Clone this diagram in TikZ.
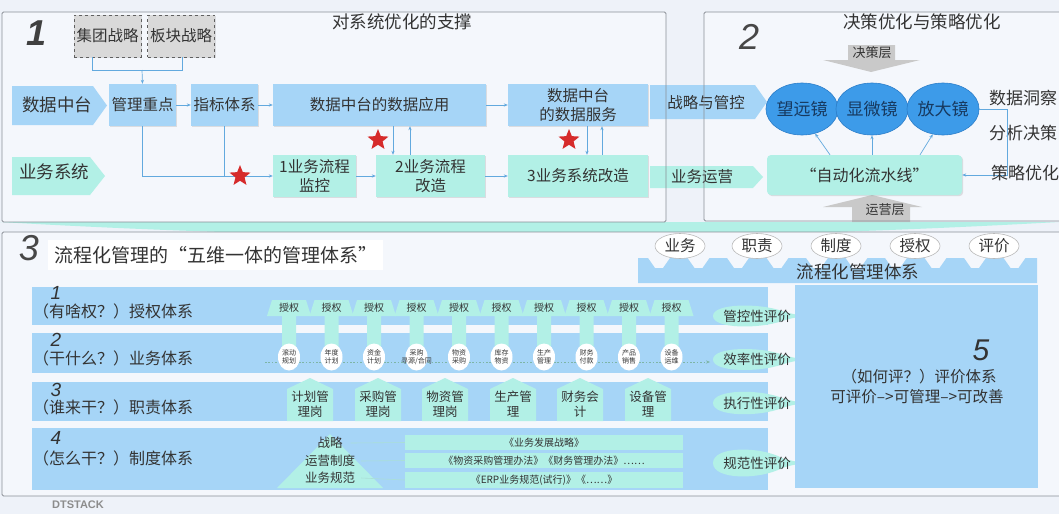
\documentclass[tikz,border=0pt]{standalone}
\usepackage{fontspec}
\setmainfont{Noto Sans CJK SC}
\newfontfamily\numfont{Liberation Sans}
\usetikzlibrary{shapes.geometric,arrows.meta,shadows,calc}
\definecolor{bg}{HTML}{EEF2F9}
\definecolor{panel}{HTML}{F4F7FC}
\definecolor{cblue}{HTML}{A6D5F7}
\definecolor{cteal}{HTML}{B2F0E6}
\definecolor{lens}{HTML}{3D9BE9}
\definecolor{lensb}{HTML}{2B7DC9}
\definecolor{navy}{HTML}{17395F}
\definecolor{txt}{HTML}{333333}
\definecolor{cline}{HTML}{62A9DE}
\definecolor{sred}{HTML}{D62B2B}
\definecolor{gbox}{HTML}{D9D9D9}
\definecolor{garrow}{HTML}{C9C9C9}
\definecolor{bord}{HTML}{8A8F96}
\definecolor{dotc}{HTML}{7DB5A6}
\newcommand\myfs[2]{\fontsize{#1}{#2}\selectfont}
\begin{document}
\begin{tikzpicture}[x=1pt,y=-1pt,
  shad/.style={drop shadow={shadow xshift=1.2pt,shadow yshift=-1.2pt,opacity=0.22}},
  boxb/.style={fill=cblue, text=txt, align=center, inner sep=0pt, font=\myfs{15.5}{19}, shad},
  boxt/.style={boxb, fill=cteal},
  gbx/.style={fill=gbox, draw=gray!75!black, dashed, text=txt, inner sep=0pt, font=\myfs{15.5}{19}, minimum width=67, minimum height=42, shad},
  conn/.style={draw=cline, line width=0.7pt, -{Stealth[length=4pt,width=3.2pt]}},
  plain/.style={draw=cline, line width=0.7pt},
  redstar/.style={star, star points=5, star point ratio=2.3, fill=sred, minimum size=22pt, inner sep=0pt},
  lbl/.style={text=txt, inner sep=0pt, align=center},
  lensn/.style={ellipse, fill=lens, draw=lensb, line width=0.6pt, minimum width=70, minimum height=52, inner sep=0pt, text=navy, font=\myfs{17}{20}},
  topov/.style={ellipse, fill=white, draw=gray!55, line width=0.6pt, minimum width=50, minimum height=25, inner sep=0pt, text=txt, font=\myfs{15.5}{18}},
  bignum/.style={text=black!72, inner sep=0pt, font=\numfont\itshape\myfs{36}{36}},
  rownum/.style={text=txt, inner sep=0pt, font=\numfont\itshape\myfs{19}{19}},
]
% background
\fill[bg] (0,0) rectangle (1059,514);
\useasboundingbox (0,0) rectangle (1059,514);
% teal lens band between panels
\fill[cteal] (0,222) .. controls (350,242) and (700,242) .. (1059,222) -- cycle;
% panel fills
\fill[panel] (2,12) rectangle (666,222);
\fill[panel] (704,12) rectangle (1065,221);
\fill[panel] (2,232) rectangle (1065,496);

%================ PANEL 1 ================
\node[text=black!75, inner sep=0pt, font=\numfont\bfseries\itshape\myfs{36}{36}] (n1) at (37,33) {1};
\node[lbl, font=\myfs{17.5}{20}] (t1) at (402,22) {对系统优化的支撑};
\node[gbx] (jt) at (107.5,36) {集团战略};
\node[gbx] (bk) at (181,36) {板块战略};
\coordinate (jn) at (142,70);
\draw[plain] ([xshift=-15.5pt]jt.south) -- ++(0,13) -| ([xshift=1pt]bk.south);

% left arrows
\fill[cblue] (12,86) -- (93,86) -- (107,105.5) -- (93,125) -- (12,125) -- cycle;
\node[lbl, font=\myfs{17.5}{20}] (sj) at (57,105) {数据中台};
\fill[cteal] (12,157) -- (90,157) -- (105,176) -- (90,195) -- (12,195) -- cycle;
\node[lbl, font=\myfs{17.5}{20}] (ywx) at (54,172) {业务系统};

\node[boxb, minimum width=67, minimum height=42] (gl) at (142.5,105) {管理重点};
\node[boxb, minimum width=67, minimum height=42] (zb) at (224.5,105) {指标体系};
\node[boxb, minimum width=213, minimum height=42] (sy) at (379.5,105) {数据中台的数据应用};
\node[boxb, minimum width=140, minimum height=42] (fw) at (578,105) {数据中台\\的数据服务};
\node[boxt, minimum width=83, minimum height=42] (m1) at (314.5,176) {1业务流程\\监控};
\node[boxt, minimum width=109, minimum height=42] (m2) at (430.5,176) {2业务流程\\改造};
\node[boxt, minimum width=140, minimum height=42] (m3) at (578,176) {3业务系统改造};

\draw[conn] (jn) -- (gl.north);
\draw[conn] (gl) -- (zb);
\draw[conn] (zb) -- (sy);
\draw[conn] (sy) -- (fw);
\draw[conn] (gl.south) |- (m1.west);
\draw[plain] (zb.south) -- (zb.south |- m1.west);
\draw[conn] (m1) -- (m2);
\draw[conn] (m2) -- (m3);
\draw[conn] ([xshift=13.5pt]sy.south) -- ([xshift=-37.5pt]m2.north);
\draw[conn] ([xshift=-20.5pt]m2.north) -- ([xshift=30.5pt]sy.south);
\draw[conn] ([xshift=9pt]fw.south) -- ([xshift=9pt]m3.north);
\draw[conn] ([xshift=24pt]m3.north) -- ([xshift=24pt]fw.south);
\node[redstar] (s1) at (240,176) {};
\node[redstar] (s2) at (378,140) {};
\node[redstar] (s3) at (569,140) {};

% crossing arrows
\fill[cblue] (650,85) -- (755,85) -- (767,102) -- (755,119) -- (650,119) -- cycle;
\node[lbl, font=\myfs{15.5}{18}] (zl) at (706,103) {战略与管控};
\fill[cteal] (650,166) -- (753,166) -- (763,177) -- (753,188) -- (650,188) -- cycle;
\node[lbl, font=\myfs{15.5}{18}] (yy) at (702,177) {业务运营};

%================ PANEL 2 ================
\node[bignum] (n2) at (749,37) {2};
\node[lbl, font=\myfs{17.5}{20}] (t2) at (922,22) {决策优化与策略优化};
\fill[garrow] (848,45) -- (895,45) -- (895,60) -- (920,60) -- (871,72) -- (823,60) -- (848,60) -- cycle;
\node[lbl, font=\myfs{13}{15}] (jc) at (872,53) {决策层};
\fill[garrow] (872,195) -- (922,207) -- (910,207) -- (910,222) -- (852,222) -- (852,207) -- (823,207) -- cycle;
\node[lbl, font=\myfs{13}{15}] (yyc) at (885,210) {运营层};

\node[lensn] (wy) at (802,109) {望远镜};
\node[lensn] (xw) at (872,109) {显微镜};
\node[lensn] (fd) at (943,109) {放大镜};
\node[lbl, font=\myfs{17}{20}] (dc) at (1023,98) {数据洞察};
\node[lbl, font=\myfs{17}{20}] (fx) at (1023,133) {分析决策};
\node[boxt, rounded corners=4pt, minimum width=195, minimum height=40, font=\myfs{16}{19}] (zd) at (864.5,175) {“自动化流水线”};
\draw[conn] ([xshift=-34.5pt]zd.north) -- (wy.-62);
\draw[conn] (zd.north -| xw) -- (xw.south);
\draw[conn] ([xshift=55.5pt]zd.north) -- (fd.-112);
\draw[conn] (fd.east) -- ++(28,0) |- (zd.east);
\node[lbl, font=\myfs{17}{20}] (cl) at (1025,173) {策略优化};

%================ PANEL 3 ================
\node[bignum] (n3) at (29,248) {3};
\node[fill=white, minimum width=335, minimum height=30, inner sep=0pt, text=txt, font=\myfs{19}{21}] (tb) at (215.5,255) {流程化管理的“五维一体的管理体系”};

% row bands
\fill[cblue] (32,287) rectangle (768,325);
\fill[cblue] (32,333) rectangle (768,373);
\fill[cblue] (32,382) rectangle (768,421);
\fill[cblue] (32,428) rectangle (768,490);
\node[rownum] (rn1) at (56,293) {1};
\node[rownum] (rn2) at (56,340) {2};
\node[rownum] (rn3) at (56,390) {3};
\node[rownum] (rn4) at (56,438) {4};
\node[lbl, font=\myfs{16}{18}] (rl1) at (113,311) {（有啥权？）授权体系};
\node[lbl, font=\myfs{16}{18}] (rl2) at (113,358) {（干什么？）业务体系};
\node[lbl, font=\myfs{16}{18}] (rl3) at (113,407) {（谁来干？）职责体系};
\node[lbl, font=\myfs{16}{18}] (rl4) at (113,458) {（怎么干？）制度体系};

% authority bells
\foreach \i in {0,...,9}{
  \pgfmathsetmacro\cx{289+42.5*\i}
  \fill[cteal] (\cx-17,300) -- (\cx+17,300) -- (\cx+22,316) -- (\cx+7,316) -- (\cx+7,348) -- (\cx-7,348) -- (\cx-7,316) -- (\cx-22,316) -- cycle;
  \node[lbl, font=\myfs{10}{11}] (sq\i) at (\cx,307.5) {授权};
}
% dotted flow
\coordinate (fl0) at (265,362);
\coordinate (fl1) at (710,362);
\draw[draw=dotc, line width=0.8pt, dash pattern=on 1.6pt off 1.8pt, -{Stealth[length=4pt,width=3.2pt]}] (fl0) -- (fl1);
% business circles
\foreach \i/\a/\b in {0/滚动/规划,1/年度/计划,2/资金/计划,3/采购/{寻源/合同},4/物资/采购,5/库存/物资,6/生产/管理,7/财务/付款,8/产品/销售,9/设备/运维}{
  \pgfmathsetmacro\cx{289+42.5*\i}
  \fill[white] (\cx,357) ellipse [x radius=11, y radius=13.5];
  \node[lbl, font=\myfs{7}{8.5}] (bc\i) at (\cx,357) {\a\\\b};
}
% duty houses
\foreach \i/\cx/\a/\b in {0/310/计划管/理岗,1/378/采购管/理岗,2/445/物资管/理岗,3/513/生产管/理,4/580/财务会/计,5/648/设备管/理}{
  \fill[cteal] (\cx-23,421) -- (\cx-23,389) -- (\cx,378) -- (\cx+23,389) -- (\cx+23,421) -- cycle;
  \node[lbl, font=\myfs{12.5}{15}] (dh\i) at (\cx,404.5) {\a\\\b};
}
% rules pyramid and bars
\fill[cteal] (277,488) -- (330,434) -- (383,488) -- cycle;
\node[lbl, font=\myfs{12.5}{15}] (py1) at (330,443) {战略};
\node[lbl, font=\myfs{12.5}{15}] (py2) at (330,461) {运营制度};
\node[lbl, font=\myfs{12.5}{15}] (py3) at (330,478) {业务规范};
\node[fill=cteal, minimum width=278, minimum height=15, inner sep=0pt, text=txt, font=\myfs{10}{11}] (rb1) at (544,442.5) {《业务发展战略》};
\node[fill=cteal, minimum width=278, minimum height=15, inner sep=0pt, text=txt, font=\myfs{10}{11}] (rb2) at (544,460.5) {《物资采购管理办法》《财务管理办法》……};
\node[fill=cteal, minimum width=278, minimum height=16, inner sep=0pt, text=txt, font=\myfs{10}{11}] (rb3) at (544,480) {《ERP业务规范(试行)》《……》};
\draw[draw=cteal!85!gray, line width=0.6pt] (py1.east) ++(8,0) -- (rb1.west);
\draw[draw=cteal!85!gray, line width=0.6pt] (py2.east) ++(6,0) -- (rb2.west);
\draw[draw=cteal!85!gray, line width=0.6pt] (py3.east) ++(6,0) -- (rb3.west);

% evaluation blobs
\foreach \cy/\ry/\t/\n in {316/13/管控性评价/e1,359.5/13/效率性评价/e2,403/14/执行性评价/e3,463/17/规范性评价/e4}{
  \fill[cteal] (713,\cy) .. controls (713,\cy-\ry) and (760,\cy-\ry) .. (782,\cy-5) .. controls (792,\cy-2) .. (807,\cy) .. controls (792,\cy+2) .. (782,\cy+5) .. controls (760,\cy+\ry) and (713,\cy+\ry) .. (713,\cy) -- cycle;
  \node[lbl, font=\myfs{13.5}{16}] (\n) at (757,\cy) {\t};
}

% evaluation box
\node[fill=cblue, minimum width=243, minimum height=203, inner sep=0pt] (b5) at (916.5,386.5) {};
\node[text=txt, inner sep=0pt, font=\numfont\itshape\myfs{30}{30}] (n5) at (981,350) {5};
\node[lbl, font=\myfs{15.5}{18}] (b5a) at (919,377) {（如何评？）评价体系};
\node[lbl, font=\myfs{15.5}{18}] (b5b) at (917,397) {可评价–>可管理–>可改善};

% top notched bar
\fill[cblue] (638,283) -- (638,258) \foreach \k in {0,...,9}{ -- ({648+39.5*\k},258) -- ({655+39.5*\k},268) -- ({663+39.5*\k},268) -- ({670+39.5*\k},258) } -- (1037,258) -- (1037,283) -- cycle;
\node[lbl, font=\myfs{17.5}{20}] (lc) at (858,272) {流程化管理体系};
\node[topov] (o1) at (680,246) {业务};
\node[topov] (o2) at (757,246) {职责};
\node[topov] (o3) at (836,246) {制度};
\node[topov] (o4) at (915,246) {授权};
\node[topov] (o5) at (994,246) {评价};

\node[text=black!45, inner sep=0pt, font=\numfont\bfseries\myfs{11}{12}] (dt) at (78,505) {DTSTACK};

% panel borders
\draw[bord, line width=0.8pt, rounded corners=1.5pt] (2,12) rectangle (666,222);
\draw[bord, line width=0.8pt, rounded corners=1.5pt] (704,12) rectangle (1065,221);
\draw[bord, line width=0.8pt, rounded corners=1.5pt] (2,232) rectangle (1065,496);
\end{tikzpicture}
\end{document}
